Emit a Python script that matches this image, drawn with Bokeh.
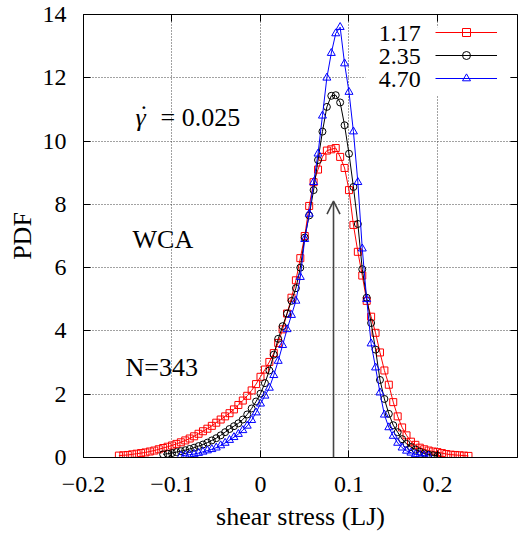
from bokeh.plotting import figure
from bokeh.models import (Range1d, FixedTicker, LinearAxis, Legend, LegendItem, Label,
                          Arrow, OpenHead, BoxAnnotation, CustomJSTickFormatter)
from bokeh.embed import file_html
from bokeh.resources import INLINE

# ---------------- data ----------------
series_labels = ["1.17", "2.35", "4.70"]

red_x = [-0.160, -0.155, -0.150, -0.145, -0.140, -0.135, -0.130, -0.125, -0.120, -0.115,
         -0.110, -0.105, -0.100, -0.095, -0.090, -0.085, -0.080, -0.075, -0.070, -0.065,
         -0.060, -0.055, -0.050, -0.045, -0.040, -0.035, -0.030, -0.025, -0.020, -0.015,
         -0.010, -0.005, 0.000, 0.005, 0.010, 0.015, 0.020, 0.025, 0.030, 0.035,
         0.040, 0.045, 0.050, 0.055, 0.060, 0.065, 0.070, 0.075, 0.080, 0.085,
         0.090, 0.095, 0.100, 0.105, 0.110, 0.115, 0.120, 0.125, 0.130, 0.135,
         0.140, 0.145, 0.150, 0.155, 0.160, 0.165, 0.170, 0.175, 0.180, 0.185,
         0.190, 0.195, 0.200, 0.205, 0.210, 0.215, 0.220, 0.225, 0.230, 0.235]
red_pdf = [0.06, 0.07, 0.08, 0.10, 0.12, 0.14, 0.16, 0.19, 0.22, 0.26,
           0.30, 0.34, 0.38, 0.43, 0.48, 0.54, 0.60, 0.67, 0.75, 0.83,
           0.91, 1.00, 1.10, 1.20, 1.30, 1.40, 1.52, 1.66, 1.80, 1.95,
           2.12, 2.32, 2.55, 2.78, 3.02, 3.30, 3.62, 4.05, 4.55, 5.05,
           5.60, 6.30, 7.00, 7.95, 8.70, 9.10, 9.50, 9.70, 9.74, 9.78,
           9.50, 9.15, 8.45, 7.35, 6.50, 5.75, 4.95, 4.45, 3.94, 3.32,
           2.75, 2.30, 1.75, 1.30, 0.95, 0.70, 0.50, 0.40, 0.31, 0.26,
           0.22, 0.19, 0.17, 0.14, 0.11, 0.09, 0.08, 0.07, 0.06, 0.05]

black_x = [-0.110, -0.105, -0.100, -0.095, -0.090, -0.085, -0.080, -0.075, -0.070, -0.065,
           -0.060, -0.055, -0.050, -0.045, -0.040, -0.035, -0.030, -0.025, -0.020, -0.015,
           -0.010, -0.005, 0.000, 0.005, 0.010, 0.015, 0.020, 0.025, 0.030, 0.035,
           0.040, 0.045, 0.050, 0.055, 0.060, 0.065, 0.070, 0.075, 0.080, 0.085,
           0.090, 0.095, 0.100, 0.105, 0.110, 0.115, 0.120, 0.125, 0.130, 0.135,
           0.140, 0.145, 0.150, 0.155, 0.160, 0.165, 0.170, 0.175, 0.180, 0.185,
           0.190, 0.195, 0.200]
black_pdf = [0.10, 0.12, 0.14, 0.17, 0.20, 0.23, 0.27, 0.31, 0.36, 0.41,
             0.47, 0.54, 0.61, 0.70, 0.80, 0.90, 0.99, 1.08, 1.20, 1.36,
             1.55, 1.77, 2.02, 2.35, 2.75, 3.25, 3.75, 4.15, 4.55, 4.95,
             5.35, 6.00, 6.95, 7.65, 8.45, 9.40, 10.30, 11.08, 11.43, 11.45,
             11.22, 10.50, 9.60, 8.55, 7.38, 5.95, 5.05, 4.25, 3.41, 2.45,
             1.85, 1.38, 1.02, 0.80, 0.58, 0.43, 0.33, 0.25, 0.18, 0.13,
             0.09, 0.07, 0.05]

blue_x = [-0.090, -0.085, -0.080, -0.075, -0.070, -0.065, -0.060, -0.055, -0.050, -0.045,
          -0.040, -0.035, -0.030, -0.025, -0.020, -0.015, -0.010, -0.005, 0.000, 0.005,
          0.010, 0.015, 0.020, 0.025, 0.030, 0.035, 0.040, 0.045, 0.050, 0.055,
          0.060, 0.065, 0.070, 0.075, 0.080, 0.085, 0.090, 0.095, 0.100, 0.105,
          0.110, 0.115, 0.120, 0.125, 0.130, 0.135, 0.140, 0.145, 0.150, 0.155,
          0.160, 0.165, 0.170, 0.175, 0.180, 0.185, 0.190]
blue_pdf = [0.05, 0.07, 0.09, 0.11, 0.14, 0.18, 0.22, 0.26, 0.31, 0.38,
            0.46, 0.55, 0.64, 0.74, 0.86, 1.00, 1.18, 1.42, 1.70, 1.95,
            2.20, 2.60, 3.05, 3.55, 4.05, 4.50, 4.95, 5.70, 6.90, 7.70,
            8.70, 9.60, 10.80, 12.00, 12.78, 13.40, 13.60, 12.45, 11.55, 10.30,
            8.70, 6.60, 5.00, 3.60, 2.84, 2.05, 1.35, 0.95, 0.68, 0.46,
            0.31, 0.21, 0.15, 0.10, 0.08, 0.06, 0.05]

x_ticks = [-0.2, -0.1, 0.0, 0.1, 0.2]
y_ticks = [0, 2, 4, 6, 8, 10, 12, 14]

# annotation positions (data units)
arrow_x = 0.0825
arrow_top = 8.1
gamma_pos = (-0.1412, 10.73)
gamma_dot_pos = (-0.1317, 10.85)
rate_value_pos = (-0.1130, 10.73)
wca_pos = (-0.1446, 6.88)
n_pos = (-0.1525, 2.84)
legend_label_x = 0.181
legend_rows_y = [13.41, 12.68, 11.96]

X_START, X_END = -0.2, 0.2904
FONT = "Liberation Serif"

p = figure(width=519, height=533, x_range=Range1d(X_START, X_END), y_range=Range1d(0, 14),
           output_backend="svg", toolbar_location=None,
           min_border_left=83, min_border_right=2, min_border_top=14, min_border_bottom=75)
p.background_fill_color = "white"
p.border_fill_color = "white"
p.outline_line_color = "black"
p.outline_line_width = 1

# axes
minus_fmt = CustomJSTickFormatter(code="""
if (Math.abs(tick) < 1e-9) { return "0"; }
return (tick < 0 ? "\u2212" : "") + Math.abs(tick).toFixed(1);
""")
empty_fmt = CustomJSTickFormatter(code='return "";')

xa = p.xaxis[0]
xa.ticker = FixedTicker(ticks=x_ticks)
xa.formatter = minus_fmt
xa.axis_label = "shear stress (LJ)"
ya = p.yaxis[0]
ya.ticker = FixedTicker(ticks=y_ticks)
ya.axis_label = "PDF"
for ax in (xa, ya):
    ax.major_tick_in = 7
    ax.major_tick_out = 0
    ax.minor_tick_in = 0
    ax.minor_tick_out = 0
    ax.axis_line_color = "black"
    ax.major_tick_line_color = "black"
    ax.major_label_text_font = FONT
    ax.major_label_text_font_size = "24px"
    ax.major_label_text_color = "black"
    ax.axis_label_text_font = FONT
    ax.axis_label_text_font_size = "26px"
    ax.axis_label_text_font_style = "normal"
    ax.axis_label_text_color = "black"
xa.major_label_standoff = 19
xa.axis_label_standoff = 7
ya.major_label_standoff = 17
ya.axis_label_standoff = 3

for rng_ticks, side in ((x_ticks, "above"), (y_ticks, "right")):
    ax = LinearAxis(ticker=FixedTicker(ticks=rng_ticks), formatter=empty_fmt,
                    major_tick_in=7, major_tick_out=0, minor_tick_in=0, minor_tick_out=0,
                    major_label_text_font_size="1px", major_label_standoff=0,
                    axis_line_alpha=0, major_tick_line_color="black")
    p.add_layout(ax, side)

# grid
p.xgrid.ticker = FixedTicker(ticks=x_ticks)
p.ygrid.ticker = FixedTicker(ticks=y_ticks)
p.grid.grid_line_color = "#444444"
p.grid.grid_line_dash = "1 2"
p.grid.grid_line_width = 1

# series
specs = [
    (red_x, red_pdf, "#ff0000", "square", 7),
    (black_x, black_pdf, "#000000", "circle", 7),
    (blue_x, blue_pdf, "#0000ff", "triangle", 8),
]
items = []
for (xs, ys, col, mk, sz), lab in zip(specs, series_labels):
    rl = p.line(xs, ys, line_color=col, line_width=1)
    rs = p.scatter(xs, ys, marker=mk, size=sz, line_color=col, fill_alpha=0, line_width=1)
    items.append(LegendItem(label=" ", renderers=[rl, rs]))

# arrow
p.add_layout(Arrow(x_start=arrow_x, y_start=0, x_end=arrow_x, y_end=arrow_top,
                   line_color="#444444", line_width=1.6,
                   end=OpenHead(size=13, line_color="#444444", line_width=1.6)))

# text annotations
def lab(x, y, t, style="normal", align="left", baseline="middle", size="24px"):
    p.add_layout(Label(x=x, y=y, text=t, text_font=FONT, text_font_size=size,
                       text_font_style=style, text_align=align, text_baseline=baseline,
                       text_color="black"))

lab(gamma_pos[0], gamma_pos[1], "\u03b3", style="italic", size="26px")
lab(gamma_dot_pos[0], gamma_dot_pos[1], "\u02d9", align="center", size="26px")
lab(rate_value_pos[0], rate_value_pos[1], "= 0.025", size="26px")
lab(wca_pos[0], wca_pos[1], "WCA", size="26px")
lab(n_pos[0], n_pos[1], "N=343", size="26px")

# legend (labels on the left, samples on the right)
p.add_layout(BoxAnnotation(left=0.1186, right=0.282, bottom=11.45, top=13.6,
                           fill_color="white", fill_alpha=1, line_alpha=0))
for t, yy in zip(series_labels, legend_rows_y):
    lab(legend_label_x, yy, t, align="right")

legend = Legend(items=items, location=(352, 369), padding=0, margin=0, spacing=3,
                glyph_width=62, glyph_height=20, label_width=0, label_standoff=0,
                label_text_font_size="1px", background_fill_alpha=0, border_line_alpha=0)
p.add_layout(legend)

open("out.html", "w").write(file_html(p, INLINE))
